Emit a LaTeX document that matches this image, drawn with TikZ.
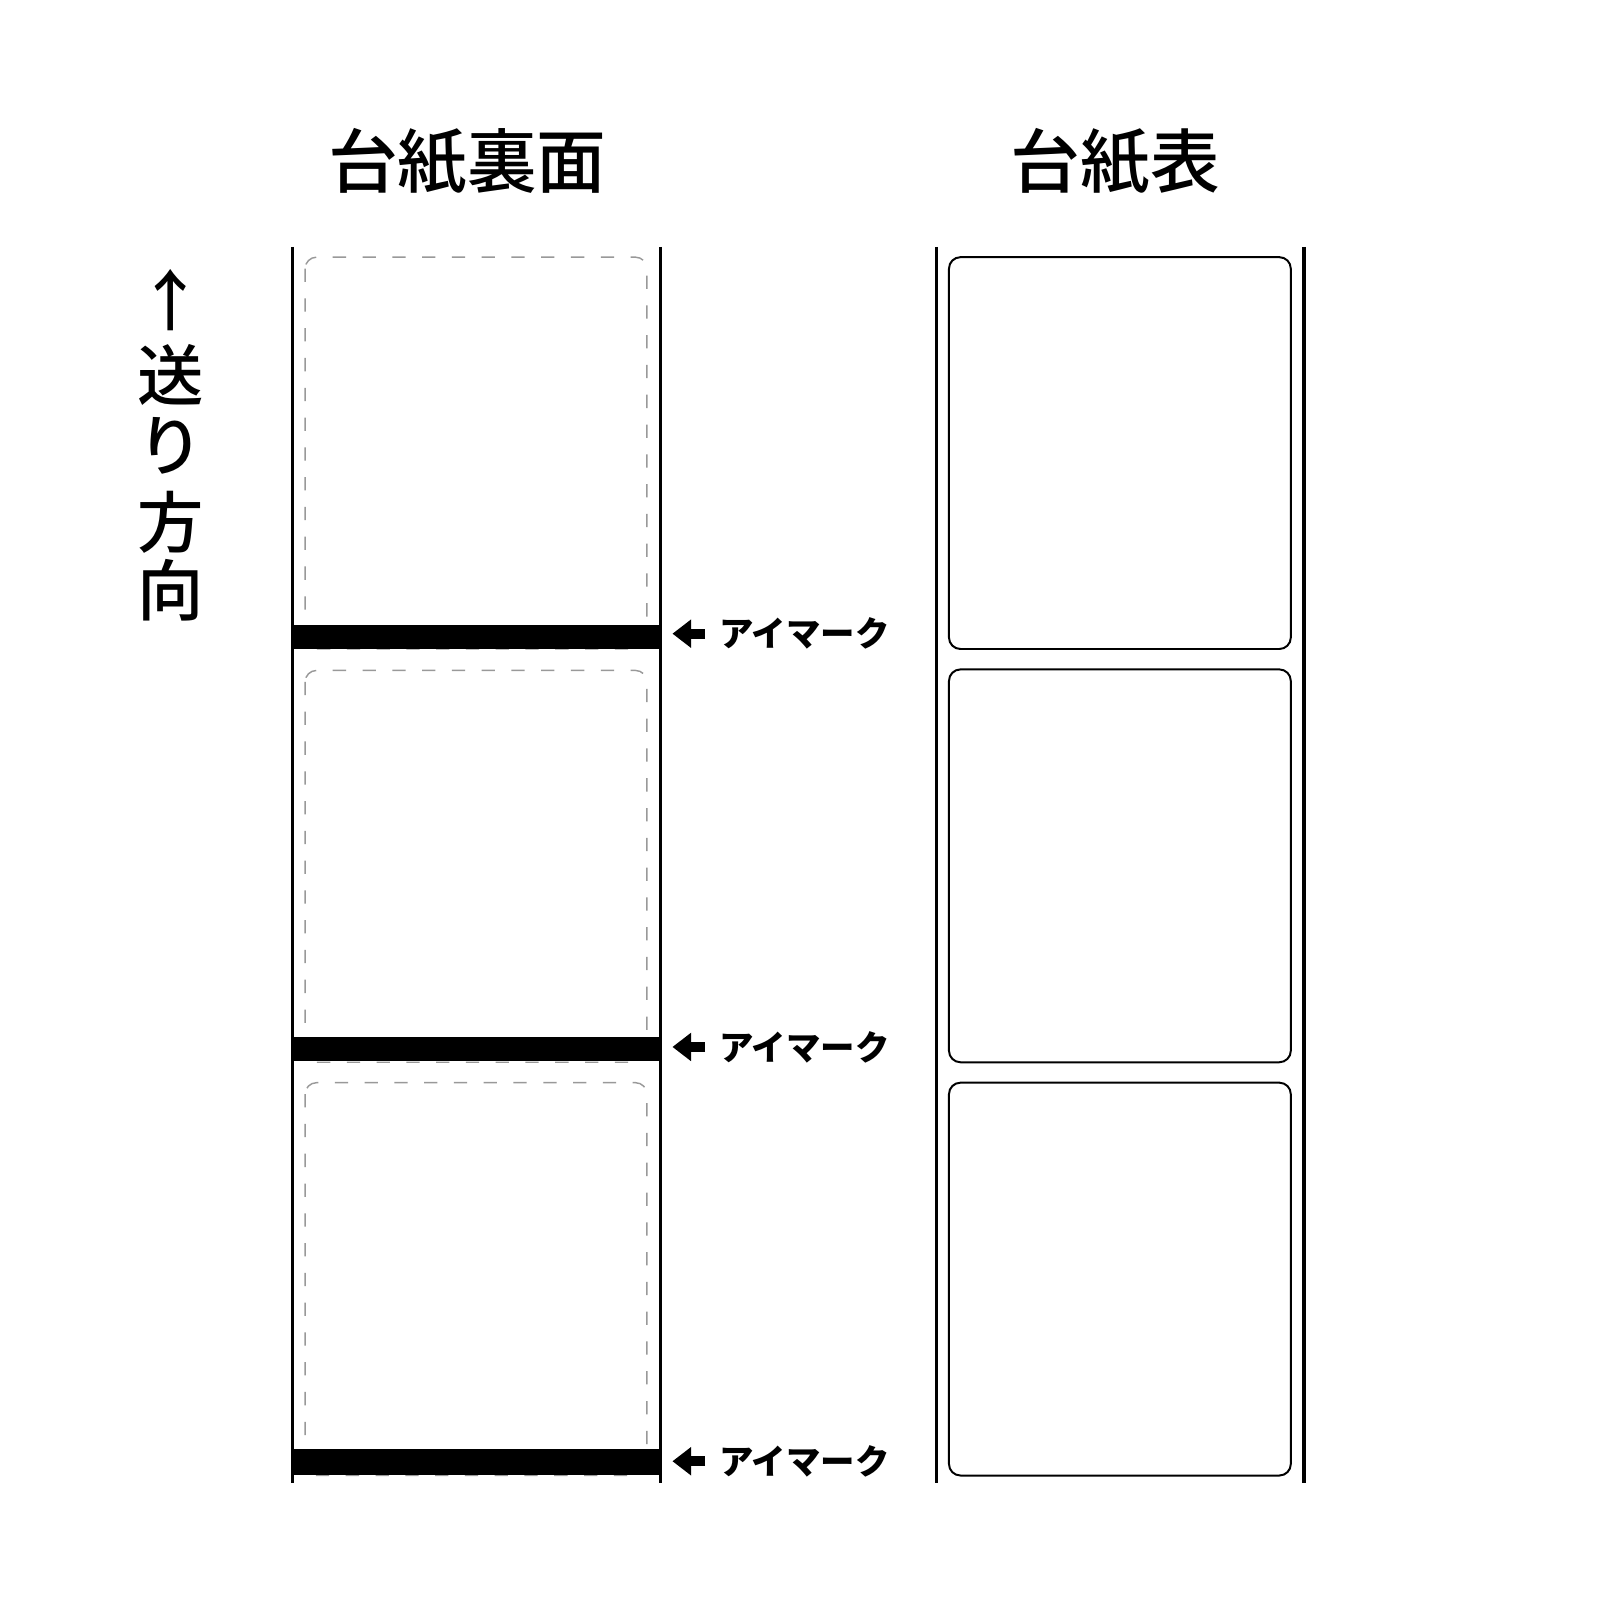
\documentclass[tikz,border=0pt]{standalone}
\usepackage{fontspec}
\newfontfamily\jp{Noto Sans CJK JP}
\newfontfamily\jpm{Noto Sans CJK JP Medium}
\usetikzlibrary{arrows.meta}
\begin{document}
\begin{tikzpicture}[x=0.01cm,y=-0.01cm,
  strip/.style={line width=0.9pt,black},
  lbl/.style={draw=black,line width=0.55pt,rounded corners=3.2pt},
  lblback/.style={draw=black!40,line width=0.4pt,dash pattern=on 3.7pt off 4.6pt,rounded corners=3.2pt},
  eyebar/.style={fill=black,draw=none},
  title/.style={font=\jpm\fontsize{19.4pt}{22pt}\selectfont,inner sep=0pt},
  vert/.style={font=\jpm\fontsize{18.5pt}{20pt}\selectfont,inner sep=0pt},
  eyelabel/.style={font=\jp\bfseries\fontsize{9.6pt}{11pt}\selectfont,inner sep=0pt,anchor=west},
  markarrow/.style={line width=2.7pt,-{Triangle[length=5.2pt,width=7.6pt]}}
]
\useasboundingbox (0,0) rectangle (1568,1568);
\fill[white] (0,0) rectangle (1568,1568);

% titles
\node[title] (tback) at (458,158) {台紙裏面};
\node[title] (tfront) at (1093,158) {台紙表};

% feed direction
\node[vert] (arr) at (167,294) {↑};
\node[vert] (c1) at (167,367) {送};
\node[vert] (c2) at (167,437) {り};
\node[vert] (c3) at (167,512) {方};
\node[vert] (c4) at (167,578) {向};

% back side strip
\foreach \t/\b in {252/636,657/1041,1061/1446}
  \draw[lblback] (299,\t) rectangle (634,\b);
\fill[eyebar] (288,612) rectangle (648,636);
\fill[eyebar] (287,1016) rectangle (646,1040);
\fill[eyebar] (287,1420) rectangle (646,1445);
\draw[strip] (287,242) -- (287,1453);
\draw[strip] (647,242) -- (647,1453);

% eye mark labels
\foreach \y/\n in {621/1,1026/2,1432/3}{
  \node[eyelabel] (m\n) at (704,\y) {アイマーク};
  \coordinate (s\n) at (691,\y);
  \coordinate (a\n) at (659,\y);
  \draw[markarrow] (s\n) -- (a\n);
}

% front side strip
\foreach \t/\b in {252/636,656/1041,1061/1446}
  \draw[lbl] (930,\t) rectangle (1265,\b);
\draw[strip] (918,242) -- (918,1453);
\draw[strip] (1278,242) -- (1278,1453);
\end{tikzpicture}
\end{document}
